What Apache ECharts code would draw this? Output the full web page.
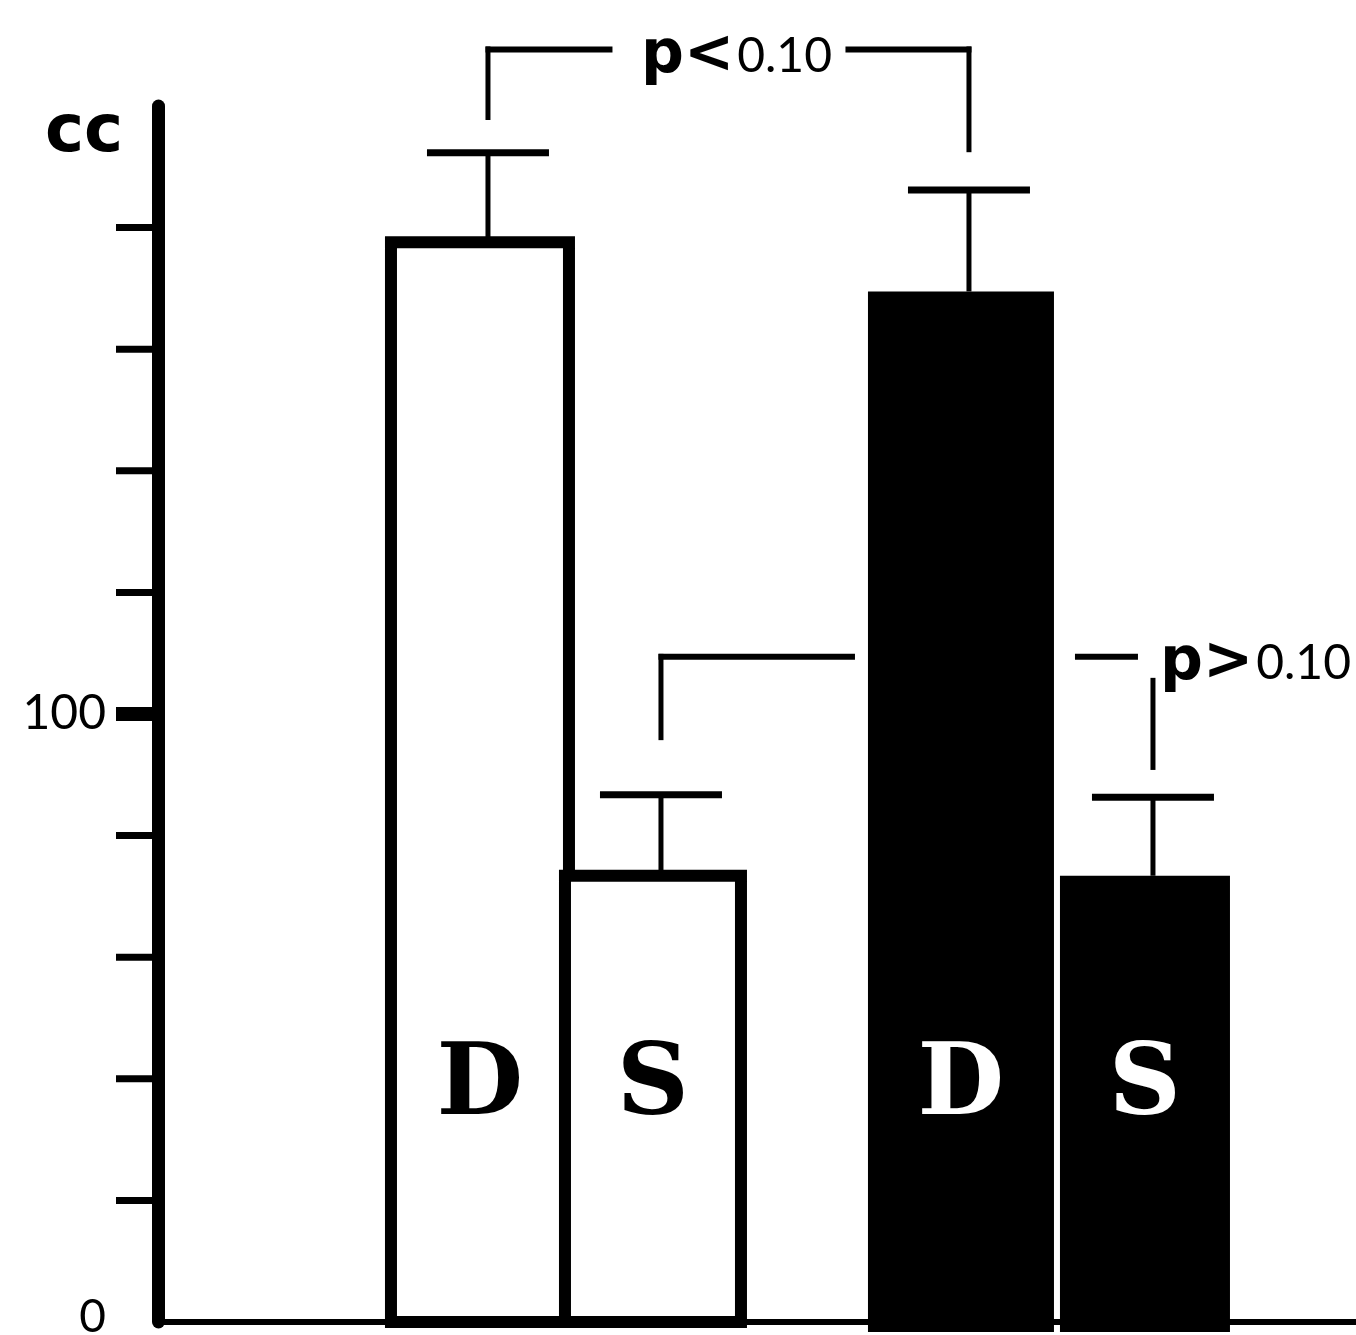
<!DOCTYPE html>
<html><head><meta charset="utf-8">
<script src="https://cdn.jsdelivr.net/npm/echarts@6/dist/echarts.min.js"></script>
<style>html,body{margin:0;padding:0;background:#fff}#c{width:1356px;height:1335px}</style>
</head><body><div id="c"></div>
<script>
// ---- data ----
const groups = ['open', 'filled'];
const barLetters = ['D', 'S'];
const dValues = [177.6, 169.5];
const dErrors = [14.7, 16.7];
const sValues = [73.4, 73.4];
const sErrors = [13.3, 12.9];
const yTicks = [20, 40, 60, 80, 100, 120, 140, 160, 180];
const yTickLabels = ['0', '100'];
const axisName = 'cc';
const comparisons = [
  {a: [0, 0], b: [1, 0], op: 'p<', num: '0.10', level: 209.3, endA: 197.7, endB: 192.4, textAt: 'middle'},
  {a: [0, 1], b: [1, 1], op: 'p>', num: '0.10', level: 109.4, endA: 95.7, endB: 90.8, textAt: 'right', pass: [1, 0]}
];

// ---- layout / style ----
const X_MIN = -0.8485, X_MAX = 1.637;
// bar extents in px relative to the group position on the x axis: [group][D|S] = [left, right]
const BAR_SPAN = [[[-182, 8], [-8, 180]], [[-181, 5], [11, 181]]];
const GROUP_FILL = ['#fff', '#000'];
const GROUP_TEXT = ['#000', '#fff'];
const STEM_SHIFT = 8;
const seriesVals = [dValues, sValues];
const seriesErrs = [dErrors, sErrors];

function ln(x1, y1, x2, y2, w) {
  return {type: 'line', shape: {x1, y1, x2, y2}, style: {stroke: '#000', lineWidth: w, lineCap: 'butt'}};
}
function barCenter(api, g, k) {
  const gc = api.coord([g, 0])[0];
  return gc + (BAR_SPAN[g][k][0] + BAR_SPAN[g][k][1]) / 2;
}

const barData = [];
groups.forEach((g, i) => [0, 1].forEach(k => barData.push([i, seriesVals[k][i], k])));
const errData = [];
groups.forEach((g, i) => [0, 1].forEach(k => errData.push([i, seriesVals[k][i], seriesErrs[k][i], k])));

function renderBar(params, api) {
  const g = api.value(0), v = api.value(1), k = api.value(2);
  const base = api.coord([g, 0]);
  const top = api.coord([g, v]);
  const x0 = base[0] + BAR_SPAN[g][k][0], x1 = base[0] + BAR_SPAN[g][k][1];
  const children = [];
  if (GROUP_FILL[g] === '#fff') {
    children.push({type: 'rect', shape: {x: x0 + 6, y: top[1], width: x1 - x0 - 12, height: base[1] - top[1]},
      style: {fill: '#fff', stroke: '#000', lineWidth: 12}});
  } else {
    children.push({type: 'rect', shape: {x: x0, y: top[1], width: x1 - x0, height: base[1] - top[1] + 10},
      style: {fill: GROUP_FILL[g]}});
  }
  children.push({type: 'text', x: (x0 + x1) / 2, y: base[1] - 234, style: {
    text: barLetters[k], fontFamily: 'DejaVu Serif', fontWeight: 'bold', fontSize: 100,
    fill: GROUP_TEXT[g], align: 'center', verticalAlign: 'middle'}});
  return {type: 'group', children};
}

function renderErr(params, api) {
  const g = api.value(0), v = api.value(1), e = api.value(2), k = api.value(3);
  const base = api.coord([g, v]);
  const top = api.coord([g, v + e]);
  const x = barCenter(api, g, k) + STEM_SHIFT;
  return {type: 'group', children: [
    ln(x, base[1], x, top[1], 5),
    ln(x - 61, top[1], x + 61, top[1], 7)
  ]};
}

function renderTicks(params, api) {
  const v = api.value(1);
  const pt = api.coord([api.value(0), v]);
  const major = yTickLabels.includes(String(v));
  return ln(pt[0] - 42, pt[1], pt[0] - 6, pt[1], major ? 14 : 7);
}

function renderBrackets(params, api) {
  const c = comparisons[params.dataIndex];
  const xA = barCenter(api, c.a[0], c.a[1]) + STEM_SHIFT;
  const xB = barCenter(api, c.b[0], c.b[1]) + STEM_SHIFT;
  const yL = api.coord([0, c.level])[1];
  const yA = api.coord([0, c.endA])[1];
  const yB = api.coord([0, c.endB])[1];
  const children = [];
  let tx, align;
  if (c.textAt === 'middle') {
    const mid = (xA + xB) / 2;
    children.push(ln(xA, yA, xA, yL - 3, 5), ln(xA - 2.5, yL, mid - 116, yL, 6),
      ln(mid + 117, yL, xB + 2.5, yL, 6), ln(xB, yL - 3, xB, yB, 5));
    tx = mid + 8; align = 'center';
  } else {
    const gcP = api.coord([c.pass[0], 0])[0];
    const pl = gcP + BAR_SPAN[c.pass[0]][c.pass[1]][0] - 13;
    const pr = gcP + BAR_SPAN[c.pass[0]][c.pass[1]][1] + 21;
    children.push(ln(xA, yA, xA, yL - 3, 5), ln(xA - 2.5, yL, pl, yL, 6),
      ln(pr, yL, xB - 15, yL, 6), ln(xB, yL + 21, xB, yB, 5));
    tx = xB + 7; align = 'left';
  }
  children.push({type: 'text', x: tx, y: yL + 7, style: {
    text: '{p|' + c.op + '}{n|' + c.num + '}',
    rich: {p: {fontFamily: 'DejaVu Sans', fontWeight: 'bold', fontSize: 60, padding: [0, 3, 0, 0]},
           n: {fontFamily: 'Lato', fontSize: 48}},
    align: align, verticalAlign: 'middle', fill: '#000'}});
  return {type: 'group', children};
}

const chart = echarts.init(document.getElementById('c'));
chart.setOption({
  animation: false,
  backgroundColor: '#fff',
  title: {text: axisName, left: 40, top: 96,
    textStyle: {fontFamily: 'DejaVu Sans', fontWeight: 'bold', fontSize: 66, color: '#000'}},
  grid: {left: 158, right: 0, top: 106, bottom: 13, outerBoundsMode: 'none', containLabel: false},
  xAxis: {type: 'value', min: X_MIN, max: X_MAX,
    axisLine: {show: true, onZero: false, lineStyle: {color: '#000', width: 6}},
    axisTick: {show: false}, axisLabel: {show: false}, splitLine: {show: false}},
  yAxis: {type: 'value', min: 0, max: 200, interval: 20,
    axisLine: {show: true, onZero: false, lineStyle: {color: '#000', width: 13}},
    axisTick: {show: false}, splitLine: {show: false},
    axisLabel: {margin: 52, color: '#000', fontFamily: 'Lato', fontSize: 48,
      formatter: v => v === 0 ? '{z|0}' : (yTickLabels.includes(String(v)) ? String(v) : ''),
      rich: {z: {fontFamily: 'Lato', fontSize: 46, color: '#000', padding: [0, 0, 10, 0]}}}},
  series: [
    {type: 'custom', renderItem: renderBar, data: barData, encode: {x: 0, y: 1}, z: 3, clip: false},
    {type: 'custom', renderItem: renderErr, data: errData, encode: {x: 0, y: 1}, z: 4, clip: false},
    {type: 'custom', renderItem: renderTicks, data: yTicks.map(v => [X_MIN, v]), encode: {x: 0, y: 1}, z: 4, clip: false},
    {type: 'custom', renderItem: renderBrackets, data: comparisons.map((c, i) => [i, c.level]), encode: {x: 0, y: 1}, z: 4, clip: false}
  ]
});
</script></body></html>
